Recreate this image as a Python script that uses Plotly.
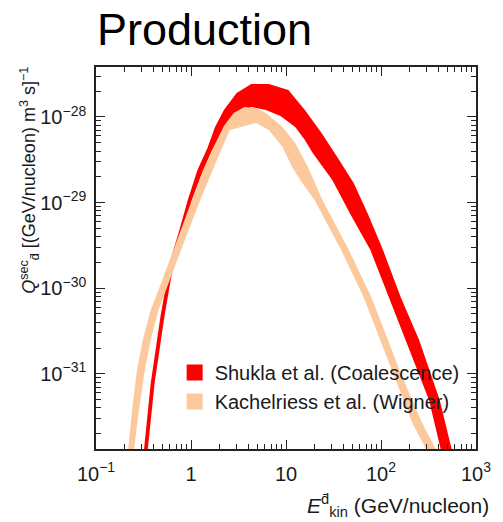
import plotly.graph_objects as go

# ---------------- data ----------------
# Shukla et al. (Coalescence) band: upper and lower edges
shukla_upper_E = [0.297, 0.319, 0.377, 0.424, 0.476, 0.550, 0.618, 0.729, 0.925, 1.17,
                  1.49, 1.79, 2.22, 3.02, 4.31, 6.59, 10.6, 15.8, 23.7, 34.6,
                  51.6, 73.6, 105, 161, 252, 415, 578, 665]
shukla_upper_Q = [5.74e-33, 1.32e-32, 7.82e-32, 1.90e-31, 4.61e-31, 1.15e-30, 2.31e-30, 4.19e-30, 1.07e-29, 2.40e-29,
                  4.35e-29, 7.64e-29, 1.21e-28, 1.91e-28, 2.43e-28, 2.43e-28, 2.07e-28, 1.21e-28, 6.50e-29, 3.41e-29,
                  1.69e-29, 7.16e-30, 2.79e-30, 7.89e-31, 2.48e-31, 4.94e-32, 1.19e-32, 5.74e-33]
shukla_lower_E = [0.334, 0.351, 0.414, 0.466, 0.524, 0.604, 0.679, 0.802, 1.02, 1.32,
                  1.67, 2.22, 3.02, 4.31, 6.14, 8.75, 12.5, 15.8, 19.1, 30.7,
                  48.1, 77.3, 118, 181, 320, 434, 501]
shukla_lower_Q = [5.74e-33, 1.32e-32, 7.82e-32, 1.90e-31, 4.61e-31, 1.15e-30, 2.31e-30, 4.19e-30, 1.07e-29, 2.28e-29,
                  4.11e-29, 7.05e-29, 1.05e-28, 1.31e-28, 1.21e-28, 1.03e-28, 7.64e-29, 5.38e-29, 3.79e-29, 1.84e-29,
                  7.16e-30, 2.79e-30, 8.79e-31, 2.48e-31, 4.94e-32, 1.19e-32, 5.74e-33]

# Kachelriess et al. (Wigner) band: upper and lower edges
kach_upper_E = [0.208, 0.218, 0.240, 0.270, 0.311, 0.377, 0.476, 0.713, 1.04, 1.32,
                1.67, 2.22, 2.81, 3.65, 4.85, 6.14, 9.19, 12.5, 17.0, 24.2,
                45.9, 79.1, 161, 271, 395, 456]
kach_upper_Q = [5.74e-33, 1.32e-32, 3.78e-32, 1.11e-31, 2.48e-31, 5.56e-31, 1.09e-30, 3.66e-30, 1.16e-29, 2.28e-29,
                4.11e-29, 7.85e-29, 1.11e-28, 1.31e-28, 1.27e-28, 1.11e-28, 7.64e-29, 4.97e-29, 2.61e-29, 1.07e-29,
                2.79e-30, 7.89e-31, 1.02e-31, 2.66e-32, 1.19e-32, 5.74e-33]
kach_lower_E = [0.240, 0.252, 0.283, 0.327, 0.377, 0.455, 0.577, 0.861, 1.29, 1.93,
                2.56, 4.01, 4.85, 6.59, 9.19, 11.6, 14.1, 20.0, 38.0, 65.5,
                133, 214, 312, 360]
kach_lower_Q = [5.74e-33, 1.32e-32, 3.78e-32, 1.11e-31, 2.48e-31, 5.56e-31, 1.09e-30, 3.66e-30, 1.16e-29, 3.41e-29,
                7.05e-29, 8.07e-29, 8.51e-29, 7.05e-29, 4.47e-29, 2.61e-29, 1.84e-29, 1.07e-29, 2.79e-30, 7.89e-31,
                1.02e-31, 2.66e-32, 1.19e-32, 5.74e-33]

series_names = ["Shukla et al. (Coalescence)", "Kachelriess et al. (Wigner)"]

x_tickvals = [0.1, 1, 10, 100, 1000]
x_ticktext = ["10<sup>\u22121</sup>", "1", "10", "10<sup>2</sup>", "10<sup>3</sup>"]
y_tickvals = [1e-31, 1e-30, 1e-29, 1e-28]
y_ticktext = ["10<sup>\u221231</sup>", "10<sup>\u221230</sup>", "10<sup>\u221229</sup>", "10<sup>\u221228</sup>"]

RED = "#FF0000"
PEACH = "#FBC99C"
FONT = "Liberation Sans, Arial, sans-serif"
INK = "#1a1a1a"

fig = go.Figure()
bands = [
    (shukla_upper_E, shukla_upper_Q, shukla_lower_E, shukla_lower_Q, RED),
    (kach_upper_E, kach_upper_Q, kach_lower_E, kach_lower_Q, PEACH),
]
for (uE, uQ, lE, lQ, col), name in zip(bands, series_names):
    fig.add_trace(go.Scatter(
        x=uE + lE[::-1], y=uQ + lQ[::-1],
        fill="toself", fillcolor=col, mode="lines",
        line=dict(width=0, color=col), name=name, legendgroup=name,
        showlegend=False, hoverinfo="skip"))
# legend entries (square swatches like the reference)
for (uE, uQ, lE, lQ, col), name in zip(bands, series_names):
    fig.add_trace(go.Scatter(
        x=[None], y=[None], mode="markers", name=name, legendgroup=name,
        marker=dict(symbol="square", size=18, color=col, line=dict(width=0)),
        showlegend=True, hoverinfo="skip"))

minor_x = [k * 10 ** p for p in range(-1, 3) for k in range(2, 10)]
minor_y = [k * 10 ** p for p in range(-33, -27) for k in range(2, 10)]

axis_common = dict(
    type="log", showgrid=False, zeroline=False,
    showline=True, linecolor="#222", linewidth=1.5, mirror="allticks",
    ticks="inside", ticklen=9, tickwidth=1.2, tickcolor="#222",
    tickfont=dict(family=FONT, size=20, color=INK),
)

fig.update_xaxes(
    **axis_common, range=[-1, 3], tickmode="array",
    tickvals=x_tickvals, ticktext=x_ticktext, ticklabelstandoff=6,
    minor=dict(tickmode="array", tickvals=minor_x, ticks="inside",
               ticklen=5, tickwidth=1, tickcolor="#222", showgrid=False))
fig.update_yaxes(
    **axis_common, range=[-31.879, -27.416], tickmode="array",
    tickvals=y_tickvals, ticktext=y_ticktext, ticklabelstandoff=4,
    minor=dict(tickmode="array", tickvals=minor_y, ticks="inside",
               ticklen=5, tickwidth=1, tickcolor="#222", showgrid=False))

fig.update_layout(
    width=503, height=522,
    margin=dict(l=96, r=17, t=67, b=73),
    paper_bgcolor="white", plot_bgcolor="white",
    font=dict(family=FONT, color=INK),
    title=dict(text="Production", x=97 / 503, xanchor="left", xref="container",
               y=1 - 29 / 522, yanchor="middle", yref="container",
               font=dict(family=FONT, size=45, color="black")),
    showlegend=True,
    legend=dict(x=0.207, y=0.251, xanchor="left", yanchor="top",
                bgcolor="rgba(0,0,0,0)", borderwidth=0,
                font=dict(family=FONT, size=20, color=INK),
                itemsizing="trace", tracegroupgap=0),
    annotations=[
        dict(text="<i>E</i><sup>d\u0304</sup><sub>kin</sub> (GeV/nucleon)",
             xref="paper", yref="paper", x=1.04, y=-0.147,
             xanchor="right", yanchor="middle", showarrow=False,
             font=dict(family=FONT, size=21, color=INK)),
        dict(text="<i>Q</i><sup>sec</sup><sub>d\u0304</sub> [(GeV/nucleon) m<sup>3</sup> s]<sup>\u22121</sup>",
             xref="paper", yref="paper", x=-0.177, y=0.704,
             xanchor="center", yanchor="middle", textangle=-90, showarrow=False,
             font=dict(family=FONT, size=18, color=INK)),
    ],
)

fig.write_html("out.html")
